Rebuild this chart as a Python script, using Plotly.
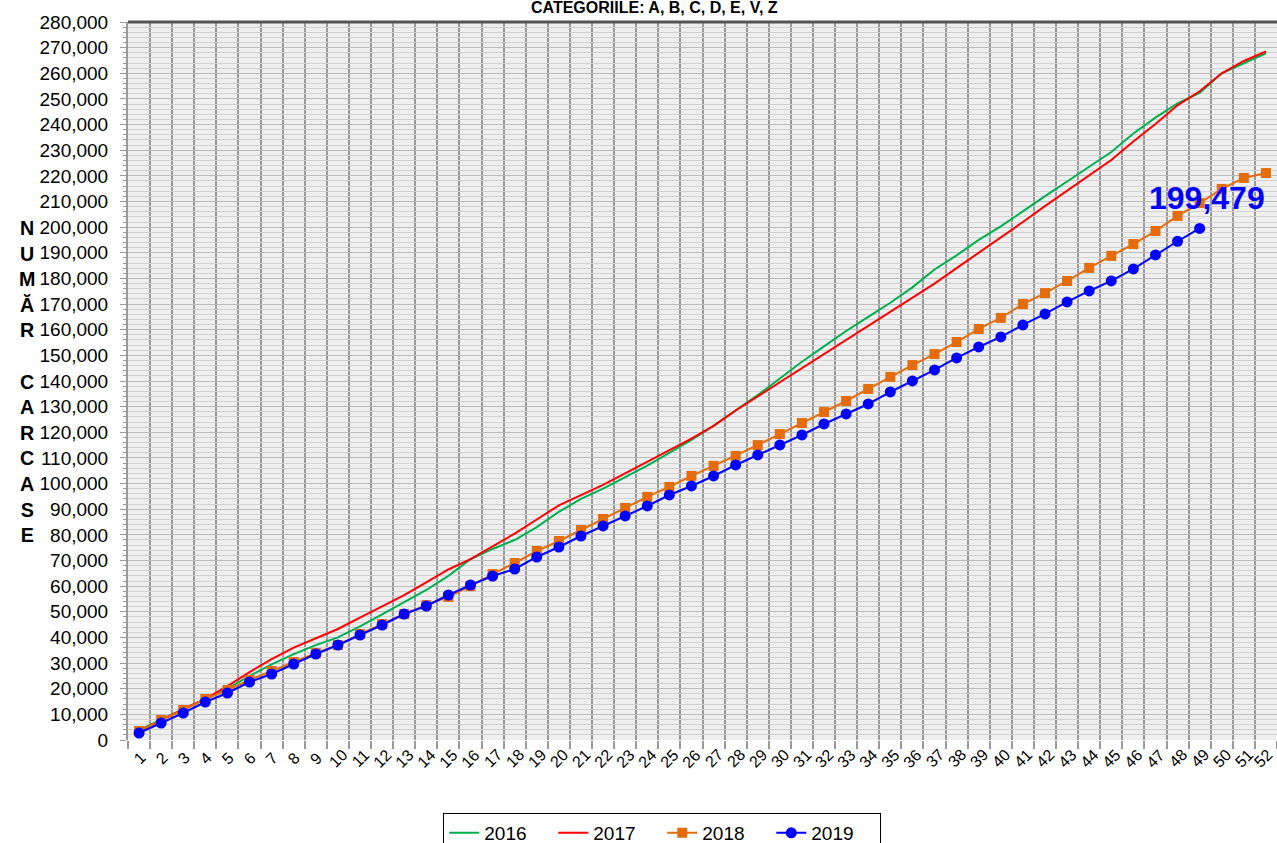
import plotly.graph_objects as go

weeks = list(range(1, 53))
week_labels = [str(w) for w in weeks]

y2016 = [3800, 8000, 12000, 16000, 20000, 25000, 29500, 33500, 37000, 40000,
         44300, 49000, 53600, 58500, 64000, 70500, 74500, 78000, 83000, 89000,
         94000, 98000, 102500, 107000, 112000, 117000, 122500, 128500, 134500, 141000,
         147500, 153500, 159500, 165000, 170500, 176500, 183500, 189000, 195000, 200300,
         206300, 212100, 217800, 223500, 229300, 236500, 242700, 248300, 252300, 260000,
         264000, 267800]
y2017 = [3500, 7800, 12000, 16000, 21000, 26500, 31500, 36000, 39500, 43300,
         47700, 52000, 56500, 61500, 66500, 70500, 75500, 80500, 86000, 91500,
         95500, 99500, 104000, 108500, 113000, 117500, 122500, 128500, 134000, 139500,
         145000, 150500, 156000, 161500, 167000, 172500, 178000, 184000, 190000, 195800,
         202000, 208200, 214100, 220100, 226200, 233400, 240200, 247500, 253000, 260000,
         264800, 268500]
y2018 = [3500, 7800, 11700, 16000, 19500, 23400, 26900, 30400, 33900, 37000,
         41300, 45200, 49100, 52600, 55800, 60000, 64700, 69000, 73700, 77600,
         81900, 86200, 90500, 94800, 98700, 103000, 106900, 110800, 115000, 119300,
         123600, 127900, 132200, 136900, 141600, 146200, 150500, 155200, 160300, 164600,
         170000, 174300, 179000, 184100, 188800, 193400, 198500, 204400, 209400, 214900,
         219200, 221100]
y2019 = [2730, 6630, 10530, 14820, 18330, 22620, 25740, 29640, 33540, 37050,
         40950, 44850, 49140, 52260, 56550, 60450, 63960, 66690, 71370, 75270,
         79560, 83460, 87360, 91260, 95550, 99060, 102960, 107250, 111150, 115050,
         118950, 123240, 127140, 131040, 135720, 140010, 144300, 148980, 153270, 157170,
         161850, 166140, 170820, 175110, 179010, 183690, 189150, 194500, 199479]

title_text = "CATEGORIILE: A, B, C, D, E, V, Z"
ytitle_letters = ["N", "U", "M", "Ă", "R", "\u00a0", "C", "A", "R", "C", "A", "S", "E"]

FONT = "Liberation Sans, Arial, sans-serif"

fig = go.Figure()
fig.add_trace(go.Scatter(x=weeks, y=y2016, name="2016", mode="lines",
                         line=dict(color="#00B050", width=2)))
fig.add_trace(go.Scatter(x=weeks, y=y2017, name="2017", mode="lines",
                         line=dict(color="#FF0000", width=2)))
fig.add_trace(go.Scatter(x=weeks, y=y2018, name="2018", mode="lines+markers",
                         line=dict(color="#E46C0A", width=2),
                         marker=dict(symbol="square", size=10, color="#E46C0A")))
fig.add_trace(go.Scatter(x=weeks[:len(y2019)], y=y2019, name="2019", mode="lines+markers",
                         line=dict(color="#0000FF", width=2),
                         marker=dict(symbol="circle", size=11, color="#0000FF")))

# value label on the last 2019 point
fig.add_annotation(x=weeks[len(y2019) - 1], y=y2019[-1], text="<b>{:,}</b>".format(y2019[-1]),
                   showarrow=False, xshift=7, yshift=30,
                   font=dict(family=FONT, size=32, color="#0000FF"))

# x tick labels, rotated and centred under each week
for i, (w, lab) in enumerate(zip(weeks, week_labels)):
    fig.add_annotation(x=w, xref="x", yref="paper", y=-0.0251, text=lab, textangle=-45,
                       xanchor="center", yanchor="middle", showarrow=False,
                       xshift=-3 if i == len(weeks) - 1 else 0,
                       font=dict(family=FONT, size=16, color="black"))

# chart title
fig.add_annotation(xref="paper", yref="paper", x=0.458, y=1.0195, yanchor="middle",
                   text="<b>" + title_text + "</b>", showarrow=False,
                   font=dict(family=FONT, size=16, color="black"))

# vertical stacked y title
fig.add_annotation(xref="paper", yref="paper", x=-0.0966, y=0.5, yanchor="middle",
                   text="<br>".join("<b>" + c + "</b>" for c in ytitle_letters),
                   showarrow=False, align="center",
                   font=dict(family=FONT, size=19.7, color="black"))

fig.add_shape(type="line", xref="paper", yref="paper", x0=0, x1=1, y0=1, y1=1,
              line=dict(color="#555555", width=3))

fig.update_layout(
    width=1277, height=843,
    margin=dict(l=128, r=0, t=22, b=103, autoexpand=False),
    paper_bgcolor="white",
    plot_bgcolor="#EFEFEF",
    font=dict(family=FONT, color="black"),
    showlegend=True,
    legend=dict(orientation="h", x=0.465, xanchor="center", y=-0.1017, yanchor="top",
                bordercolor="black", borderwidth=1, font=dict(size=19, family=FONT),
                entrywidth=64, bgcolor="white"),
)

fig.update_xaxes(
    range=[0.5, 52.5], tickmode="array", tickvals=weeks, ticktext=week_labels,
    showticklabels=False, showgrid=False, ticks="", automargin=False,
    zeroline=False, showline=False,
    minor=dict(tick0=0.5, dtick=1, showgrid=True, gridcolor="#9A9A9A", gridwidth=2,
               ticks="outside", ticklen=8, tickcolor="#9A9A9A", tickwidth=2),
)
fig.update_yaxes(
    range=[0, 280000], dtick=10000, tickformat=",", tickfont=dict(size=19, family=FONT),
    showgrid=True, gridcolor="#BDBDBD", gridwidth=1, zeroline=False, automargin=False,
    showline=True, linecolor="#9A9A9A", linewidth=2,
    ticks="outside", ticklen=6, tickcolor="#9A9A9A", ticklabelstandoff=8,
    minor=dict(dtick=2000, showgrid=True, gridcolor="#D2D2D2", gridwidth=1,
               ticks="outside", ticklen=3, tickcolor="#9A9A9A"),
)

fig.write_html("out.html", config={"displayModeBar": False},
               post_script="document.body.style.margin='0px';"
                           "document.body.style.overflow='hidden';")
